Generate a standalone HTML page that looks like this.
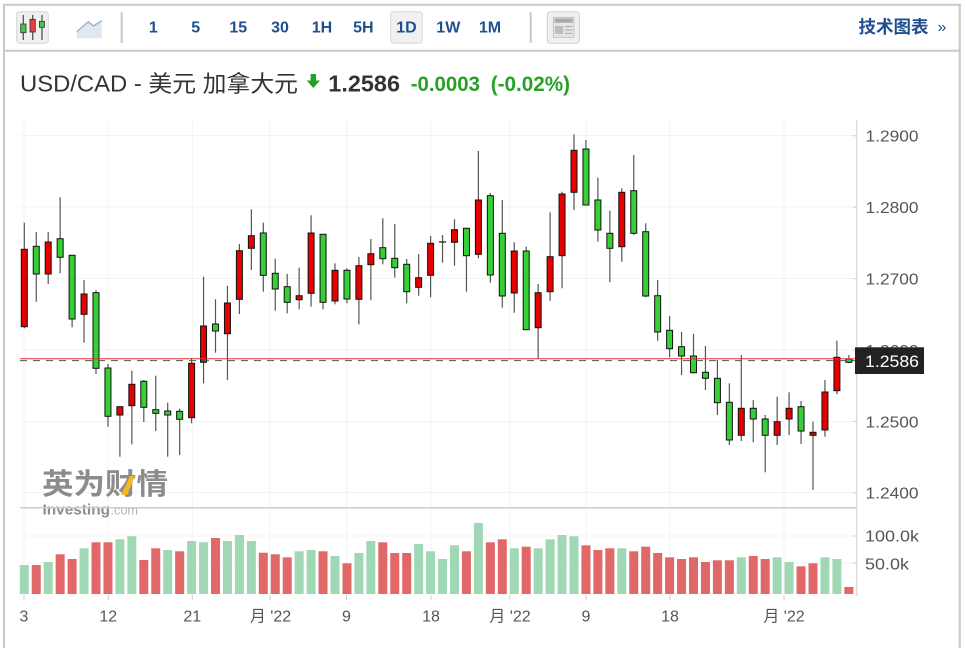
<!DOCTYPE html>
<html>
<head>
<meta charset="utf-8">
<style>
html,body{margin:0;padding:0;background:#fff;width:965px;height:648px;overflow:hidden;}
svg{display:block;}
text{font-family:"Liberation Sans","Noto Sans CJK SC",sans-serif;}
</style>
</head>
<body>
<svg id="s" width="965" height="648" viewBox="0 0 965 648" xmlns="http://www.w3.org/2000/svg">
<rect x="0" y="0" width="965" height="648" fill="#fff"/>
<!-- frame -->
<line x1="4" y1="4" x2="4" y2="648" stroke="#c8c8c8" stroke-width="2"/>
<line x1="959.7" y1="4" x2="959.7" y2="648" stroke="#c8c8c8" stroke-width="2"/>
<line x1="3" y1="4.8" x2="961" y2="4.8" stroke="#c8c8c8" stroke-width="2"/>
<line x1="3" y1="50.8" x2="961" y2="50.8" stroke="#c8c8c8" stroke-width="2"/>

<!-- candle icon -->
<rect x="16.7" y="11.7" width="31.6" height="31.6" rx="3" fill="#f0f0f0" stroke="#d4d4d4" stroke-width="1"/>
<line x1="23.3" y1="15" x2="23.3" y2="40" stroke="#555" stroke-width="1.3"/>
<rect x="20.7" y="24" width="5.3" height="8.7" fill="#44c744" stroke="#333" stroke-width="0.8"/>
<line x1="32.7" y1="15" x2="32.7" y2="40" stroke="#555" stroke-width="1.3"/>
<rect x="30" y="19.3" width="5.3" height="12.7" fill="#e84040" stroke="#333" stroke-width="0.8"/>
<line x1="42" y1="15" x2="42" y2="40" stroke="#555" stroke-width="1.3"/>
<rect x="39.4" y="21.3" width="5" height="6" fill="#44c744" stroke="#333" stroke-width="0.8"/>

<!-- line icon -->
<polygon points="76.7,38.3 76.7,31.7 88.3,21.7 93.3,26 101.7,20.7 101.7,38.3" fill="#dfe7f2"/>
<polyline points="76.7,31.7 88.3,21.7 93.3,26 101.7,20.7" fill="none" stroke="#93a9c6" stroke-width="1.2"/>

<line x1="121.7" y1="12" x2="121.7" y2="43" stroke="#c8c8c8" stroke-width="2"/>
<line x1="530.7" y1="12" x2="530.7" y2="43" stroke="#c8c8c8" stroke-width="2"/>

<rect x="390.7" y="11.7" width="31.6" height="31.6" rx="3" fill="#f1f1f1" stroke="#d8d8d8" stroke-width="1"/>

<g font-size="16" font-weight="bold" fill="#1f4f8f" text-anchor="middle">
<text x="153.3" y="32.7">1</text>
<text x="195.7" y="32.7">5</text>
<text x="238.3" y="32.7">15</text>
<text x="280" y="32.7">30</text>
<text x="322" y="32.7">1H</text>
<text x="363.3" y="32.7">5H</text>
<text x="406.5" y="32.7">1D</text>
<text x="448.3" y="32.7">1W</text>
<text x="490" y="32.7">1M</text>
</g>

<!-- newspaper icon -->
<rect x="547.3" y="11.7" width="32" height="31.6" rx="3" fill="#f0f0f0" stroke="#cfcfcf" stroke-width="1"/>
<rect x="553.3" y="17.3" width="20.7" height="20" fill="#e6e6e6" stroke="#b8b8b8" stroke-width="0.8"/>
<rect x="554.5" y="18.5" width="18.3" height="4.2" fill="#a8a8a8"/>
<rect x="555" y="26" width="8.3" height="8" fill="#bdbdbd"/>
<line x1="565" y1="26.5" x2="572.5" y2="26.5" stroke="#b0b0b0" stroke-width="1.2"/>
<line x1="565" y1="30" x2="572.5" y2="30" stroke="#b0b0b0" stroke-width="1.2"/>
<line x1="565" y1="33.5" x2="572.5" y2="33.5" stroke="#b0b0b0" stroke-width="1.2"/>

<text x="928.5" y="33" font-size="17.5" font-weight="bold" fill="#1f4f8f" text-anchor="end">技术图表</text>
<text x="937.5" y="32" font-size="16" fill="#1f4f8f">»</text>

<!-- title -->
<text x="20" y="91.5" font-size="23" fill="#333" textLength="278" lengthAdjust="spacingAndGlyphs">USD/CAD - 美元 加拿大元</text>
<rect x="310.6" y="74" width="5.4" height="7" fill="#28a028"/>
<polygon points="306.7,80.5 320,80.5 313.3,88" fill="#28a028"/>
<text x="328.3" y="91.5" font-size="23" font-weight="bold" fill="#333" textLength="71.7" lengthAdjust="spacingAndGlyphs">1.2586</text>
<text x="410.7" y="91" font-size="21" font-weight="bold" fill="#28a028" textLength="69.3" lengthAdjust="spacingAndGlyphs">-0.0003</text>
<text x="490.7" y="91" font-size="21" font-weight="bold" fill="#28a028" textLength="79.3" lengthAdjust="spacingAndGlyphs">(-0.02%)</text>

<!-- grid -->
<g stroke="#f3f3f3" stroke-width="1">
<line x1="20" y1="135.5" x2="856" y2="135.5"/>
<line x1="20" y1="207" x2="856" y2="207"/>
<line x1="20" y1="278.5" x2="856" y2="278.5"/>
<line x1="20" y1="350" x2="856" y2="350"/>
<line x1="20" y1="421.5" x2="856" y2="421.5"/>
<line x1="20" y1="492.5" x2="856" y2="492.5"/>
<line x1="20" y1="536" x2="856" y2="536"/>
<line x1="20" y1="563" x2="856" y2="563"/>
<line x1="24" y1="120" x2="24" y2="594"/>
<line x1="108.3" y1="120" x2="108.3" y2="594"/>
<line x1="192.3" y1="120" x2="192.3" y2="594"/>
<line x1="270" y1="120" x2="270" y2="594"/>
<line x1="346.5" y1="120" x2="346.5" y2="594"/>
<line x1="431" y1="120" x2="431" y2="594"/>
<line x1="510" y1="120" x2="510" y2="594"/>
<line x1="586" y1="120" x2="586" y2="594"/>
<line x1="670" y1="120" x2="670" y2="594"/>
<line x1="784" y1="120" x2="784" y2="594"/>
</g>

<!-- watermark -->
<text x="42" y="494" font-size="29" font-weight="bold" fill="#8c8c8c" textLength="126" lengthAdjust="spacingAndGlyphs">英为财情</text>
<polygon points="121,495 127,495 135,476 130,476" fill="#f5b820"/>
<text x="42.5" y="514.5" font-size="15" font-weight="bold" fill="#8c8c8c" textLength="67.5" lengthAdjust="spacingAndGlyphs">Investing</text>
<text x="110.5" y="514.5" font-size="13" fill="#b4b4b4" textLength="27.5" lengthAdjust="spacingAndGlyphs">.com</text>

<!-- volume separator -->
<line x1="20" y1="507.7" x2="857" y2="507.7" stroke="#cccccc" stroke-width="1.5"/>

<g id="vol"></g>
<g id="cdl"></g>

<!-- price lines -->
<line x1="20" y1="358.7" x2="856" y2="358.7" stroke="#e03030" stroke-width="1"/>
<line x1="20" y1="360.6" x2="856" y2="360.6" stroke="#555" stroke-width="1" stroke-dasharray="7,6"/>

<!-- y axis -->
<line x1="856.7" y1="120" x2="856.7" y2="596" stroke="#dedede" stroke-width="1.5"/>
<g stroke="#cfcfcf" stroke-width="1">
<line x1="853" y1="135.8" x2="857" y2="135.8"/>
<line x1="853" y1="207.2" x2="857" y2="207.2"/>
<line x1="853" y1="278.6" x2="857" y2="278.6"/>
<line x1="853" y1="350" x2="857" y2="350"/>
<line x1="853" y1="421.4" x2="857" y2="421.4"/>
<line x1="853" y1="492.8" x2="857" y2="492.8"/>
<line x1="853" y1="536" x2="857" y2="536"/>
<line x1="853" y1="563" x2="857" y2="563"/>
</g>
<g font-size="16" fill="#555">
<text x="865.5" y="141.7" textLength="53" lengthAdjust="spacingAndGlyphs">1.2900</text>
<text x="865.5" y="213.1" textLength="53" lengthAdjust="spacingAndGlyphs">1.2800</text>
<text x="865.5" y="284.5" textLength="53" lengthAdjust="spacingAndGlyphs">1.2700</text>
<text x="865.5" y="355.9" textLength="53" lengthAdjust="spacingAndGlyphs">1.2600</text>
<text x="865.5" y="427.3" textLength="53" lengthAdjust="spacingAndGlyphs">1.2500</text>
<text x="865.5" y="498.7" textLength="53" lengthAdjust="spacingAndGlyphs">1.2400</text>
<text x="865" y="541.7" textLength="54" lengthAdjust="spacingAndGlyphs">100.0k</text>
<text x="865" y="569.3" textLength="44" lengthAdjust="spacingAndGlyphs">50.0k</text>
</g>

<!-- price box -->
<rect x="855" y="347.3" width="69" height="26.7" fill="#222"/>
<text x="865" y="367" font-size="17" fill="#fff" textLength="54" lengthAdjust="spacingAndGlyphs">1.2586</text>

<!-- x axis -->
<g stroke="#cfcfcf" stroke-width="1">
<line x1="24" y1="595" x2="24" y2="600"/>
<line x1="108.3" y1="595" x2="108.3" y2="600"/>
<line x1="192.3" y1="595" x2="192.3" y2="600"/>
<line x1="270" y1="595" x2="270" y2="600"/>
<line x1="346.5" y1="595" x2="346.5" y2="600"/>
<line x1="431" y1="595" x2="431" y2="600"/>
<line x1="510" y1="595" x2="510" y2="600"/>
<line x1="586" y1="595" x2="586" y2="600"/>
<line x1="670" y1="595" x2="670" y2="600"/>
<line x1="784" y1="595" x2="784" y2="600"/>
</g>
<g font-size="16" fill="#555" text-anchor="middle">
<text x="24" y="621.7">3</text>
<text x="108.3" y="621.7">12</text>
<text x="192.3" y="621.7">21</text>
<text x="270.5" y="621.7">月 '22</text>
<text x="346.5" y="621.7">9</text>
<text x="431" y="621.7">18</text>
<text x="510" y="621.7">月 '22</text>
<text x="586" y="621.7">9</text>
<text x="670" y="621.7">18</text>
<text x="784" y="621.7">月 '22</text>
</g>
</svg>
<script>
(function(){
var NS="http://www.w3.org/2000/svg";
var C=[
['r',222.7,249.3,326.7,328.3],['g',232,246.3,274,301.7],['r',232,242,274,284],['g',197.3,238.7,257.3,273.3],
['g',255.3,255.3,319,327.3],['r',280,294,314.3,342.7],['g',290.3,292.7,368.3,374],['g',364,368,416.3,426.7],
['r',406,406.7,415,456.7],['r',370.7,384.3,405.7,444.3],['g',380,381.3,407.3,422],['g',375.7,409.7,413.3,431],
['g',402.7,411,415,456.7],['g',408.7,411.3,419.3,455],['r',358,363.3,417.7,423.3],['r',276.7,326,362.3,383.3],
['g',299.3,324,331,352.7],['r',285.7,303,333.7,380],['r',244,250.7,299.3,314],['r',209.3,235.7,248.3,270],
['g',222.7,233,275.3,291.7],['g',258.7,273.3,289,310.7],['g',274,286.7,302.3,313.3],['r',267.7,295.7,299.7,309.3],
['r',215.3,233,293.3,306.7],['g',234.3,234.3,302.3,309.3],['r',263.3,270.3,301,304.3],['g',268.3,270.3,299,303.3],
['r',257,265.7,299.3,324.3],['r',239,253.7,264.7,300.3],['g',218.3,247.7,258.7,264.3],['g',224,258.3,267.7,277.7],
['g',259,264.3,291.7,303.3],['r',254,277.7,287.3,295.7],['r',236,243.3,275.3,297.3],['d',235,241.3,242.5,262.7],
['r',219.3,229.7,242.3,265.7],['g',227.7,228.3,255.7,291.7],['r',151,200,254.3,258.3],['g',193,195.7,275,282.7],
['g',200,233.3,296,307.7],['r',242.3,251,293,312.7],['g',246.7,251,329.7,330],['r',284,292.7,327.7,358.3],
['r',212.3,256.7,291.7,300.7],['r',191.7,194,255.7,288.3],['r',134.3,150.3,192.3,210],['g',140,149,205,205],
['g',177.7,200,230,241.7],['g',210.7,233.3,248.3,282.3],['r',188.3,192.3,246.7,261.7],['g',155,190.7,233.3,235],
['g',223.3,231.7,296,297.3],['g',280,295.7,332,340.7],['g',316,330.3,348.7,357.3],['g',332,346.7,356,375],
['g',333.7,356,372.7,373.3],['g',346,372.3,378.3,390],['g',360,378.3,402.7,415],['g',383.3,402.3,440,445],
['r',355,408.3,435.3,441],['g',400,408.3,419,442.3],['g',415,419,435.3,472.3],['r',396.7,421.7,435.3,445],
['r',392.3,408.3,419,435],['g',401,406.7,431,444],['r',421.7,432.3,435.3,490],['r',380,392,430,436.7],
['r',340.7,357.3,390.7,394.3],['g',355,359,362.3,363.3]
];
var V=[
['g',565],['r',565],['g',562],['r',554.3],['r',559],['g',548.3],['r',542.3],['r',542.3],['g',539.3],['g',536.3],
['r',560],['r',548.3],['g',550],['r',551.3],['g',541],['g',542.3],['r',538],['g',541],['g',535],['g',541],
['r',552.7],['r',554.3],['r',557.3],['g',551.3],['g',550],['r',551.3],['g',556],['r',563.3],['g',553],['g',541],
['r',542.3],['r',553],['r',553],['g',544],['g',551.3],['g',559],['g',545.3],['r',551.3],['g',523],['r',542.3],
['r',539.3],['g',548.3],['r',546.7],['g',548.3],['g',539.3],['g',535],['g',536.3],['r',545.3],['r',550],['r',548.3],
['g',548.3],['r',551.3],['r',546.7],['r',553],['r',557.3],['r',559],['r',557.3],['r',562],['r',560.3],['r',560.3],
['g',557.3],['r',556],['r',559],['g',557.3],['g',562],['r',566.3],['r',563.3],['g',557.3],['g',559],['r',587]
];
function el(n,a,p){var e=document.createElementNS(NS,n);for(var k in a)e.setAttribute(k,a[k]);p.appendChild(e);return e;}
var vg=document.getElementById('vol'),cg=document.getElementById('cdl');
for(var i=0;i<V.length;i++){
  var x=24.3+11.95*i;
  el('rect',{x:(x-4.5).toFixed(2),y:V[i][1],width:9,height:(594-V[i][1]).toFixed(2),fill:V[i][0]=='g'?'#a0d7b4':'#e06868'},vg);
}
for(var i=0;i<C.length;i++){
  var c=C[i],x=24.3+11.95*i;
  el('line',{x1:x.toFixed(2),y1:c[1],x2:x.toFixed(2),y2:c[4],stroke:'#555','stroke-width':1.2},cg);
  if(c[0]=='d'){
    el('rect',{x:(x-3.5).toFixed(2),y:c[2],width:7,height:1.3,fill:'#222'},cg);
  } else {
    var h=Math.max(c[3]-c[2],1.5);
    el('rect',{x:(x-3).toFixed(2),y:c[2],width:6,height:h.toFixed(2),fill:c[0]=='g'?'#35d035':'#e60000',stroke:'#111','stroke-width':1},cg);
  }
}
})();
</script>
</body>
</html>
